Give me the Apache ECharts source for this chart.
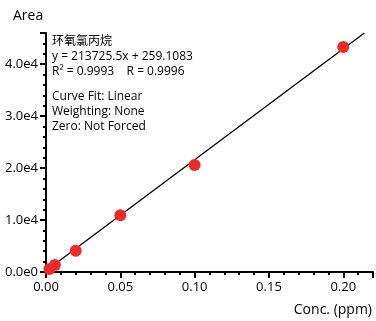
<!DOCTYPE html>
<html><head><meta charset="utf-8">
<script src="https://cdn.jsdelivr.net/npm/echarts@6/dist/echarts.min.js"></script>
<style>html,body{margin:0;padding:0;background:#fff}#c{width:376px;height:321px}</style>
</head><body><div id="c"></div>
<script>
var concX = [0.0023, 0.006, 0.02, 0.05, 0.10, 0.20];
var areaY = [600, 1350, 4100, 10900, 20600, 43300];
var fitX = [0, 0.2142];
var fitY = [259.1, 46000];
var yTickLabels = ['0.0e0', '1.0e4', '2.0e4', '3.0e4', '4.0e4'];
var infoHead = ['环氧氯丙烷', 'y = 213725.5x + 259.1083', 'R² = 0.9993    R = 0.9996'];
var infoFit = ['Curve Fit: Linear', 'Weighting: None', 'Zero: Not Forced'];

var FONT = '"Open Sans", "Noto Sans CJK SC", sans-serif';
var chart = echarts.init(document.getElementById('c'), null, {renderer: 'canvas'});
var axisCommon = {
  axisLine: {show: true, lineStyle: {color: '#000', width: 2}},
  axisTick: {show: true, length: 6, lineStyle: {color: '#000', width: 2}},
  minorTick: {show: true, splitNumber: 5, length: 3, lineStyle: {color: '#000', width: 2}},
  splitLine: {show: false}
};
chart.setOption({
  animation: false,
  grid: {left: 46, right: 1, top: 33, bottom: 49, containLabel: false},
  xAxis: Object.assign({
    type: 'value', min: 0, max: 0.22, interval: 0.05,
    axisLabel: {color: '#000', fontSize: 13, fontFamily: FONT, margin: 9,
      formatter: function (v) { var k = Math.round(v / 0.05); return Math.abs(v - k * 0.05) < 1e-9 ? v.toFixed(2) : ''; }}
  }, axisCommon),
  yAxis: Object.assign({
    type: 'value', min: 0, max: 46000, interval: 10000,
    axisLabel: {color: '#000', fontSize: 13, fontFamily: FONT, margin: 8,
      formatter: function (v) { return v % 10000 === 0 ? yTickLabels[v / 10000] : ''; }}
  }, axisCommon),
  graphic: [
    {type: 'text', left: 13, top: 9, style: {text: 'Area', font: '14px ' + FONT, fill: '#000'}},
    {type: 'text', right: 4, top: 303, style: {text: 'Conc. (ppm)', font: '14px ' + FONT, fill: '#000'}},
    {type: 'text', left: 52, top: 34, style: {text: infoHead.join('\n'), font: '12px ' + FONT, lineHeight: 15.2, fill: '#000'}},
    {type: 'text', left: 52, top: 89, style: {text: infoFit.join('\n'), font: '12px ' + FONT, lineHeight: 15.2, fill: '#000'}}
  ],
  series: [
    {type: 'line', data: fitX.map(function (x, i) { return [x, fitY[i]]; }), showSymbol: false,
      lineStyle: {color: '#000', width: 1.3}, silent: true, z: 2},
    {type: 'scatter', data: concX.map(function (x, i) { return [x, areaY[i]]; }), symbolSize: 12,
      itemStyle: {color: '#ec2a2a', opacity: 1}, z: 3}
  ]
});
</script></body></html>
